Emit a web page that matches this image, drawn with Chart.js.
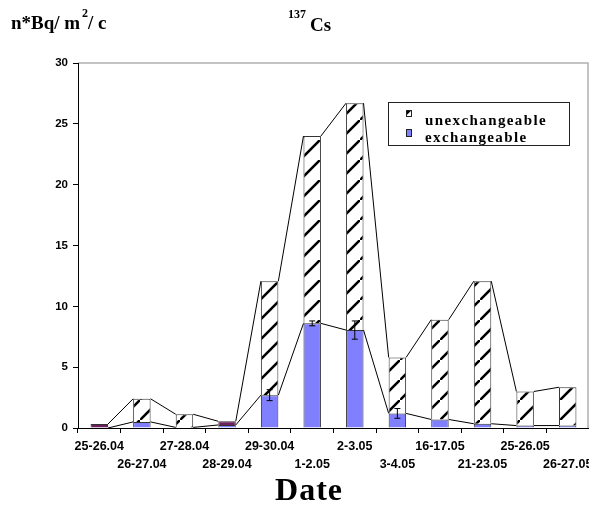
<!DOCTYPE html>
<html>
<head>
<meta charset="utf-8">
<script src="https://cdn.jsdelivr.net/npm/chart.js@4.4.0/dist/chart.umd.min.js"></script>
<style>
  body { margin: 0; background: #fff; }
  #wrap { width: 589px; height: 522px; }
</style>
</head>
<body>
<div id="wrap"><canvas id="myChart" width="589" height="522"></canvas></div>
<script>
// data
const dates = ['25-26.04', '26-27.04', '27-28.04', '28-29.04', '29-30.04', '1-2.05',
               '2-3.05', '3-4.05', '16-17.05', '21-23.05', '25-26.05', '26-27.05'];
const exchangeable = [0, 0.5, 0.05, 0.25, 2.7, 8.6, 8.05, 1.2, 0.7, 0.35, 0.2, 0.2];
const unexchangeable = [0.33, 1.9, 1.08, 0.3, 9.37, 15.4, 18.65, 4.6, 8.2, 11.72, 2.8, 3.15];
const exchError = [0, 0, 0, 0, 0.45, 0.2, 0.75, 0.4, 0, 0, 0, 0];
const yTicks = [0, 5, 10, 15, 20, 25, 30];

const canvas = document.getElementById('myChart');
const ctx = canvas.getContext('2d');

// hatch pattern for the unexchangeable part
function makeHatch() {
    const c = document.createElement('canvas');
    c.width = 20; c.height = 20;
    const g = c.getContext('2d');
    g.fillStyle = '#fff';
    g.fillRect(0, 0, 20, 20);
    g.strokeStyle = '#000';
    g.lineWidth = 2.6;
    g.beginPath();
    g.moveTo(-2, 22); g.lineTo(22, -2);
    g.stroke();
    return ctx.createPattern(c, 'repeat');
}
const hatch = makeHatch();
const purpleBars = [0, 3];
const unexColors = dates.map((d, i) => purpleBars.includes(i) ? '#6e1f5e' : hatch);

Chart.defaults.font.family = 'Liberation Sans, Arial, sans-serif';
Chart.defaults.font.weight = 'bold';
Chart.defaults.font.size = 11;
Chart.defaults.color = '#000';

// labels staggered on two rows
const xLabels = dates.map((d, i) => i % 2 === 0 ? [d, ''] : ['', d]);

const extras = {
    id: 'extras',
    beforeDraw(chart) {
        const a = chart.chartArea;
        const c = chart.ctx;
        c.save();
        c.strokeStyle = '#b0b0b0';
        c.lineWidth = 1.5;
        c.beginPath();
        c.moveTo(a.left, a.top);
        c.lineTo(a.right - 1, a.top);
        c.lineTo(a.right - 1, a.bottom);
        c.stroke();
        c.restore();
    },
    afterDatasetsDraw(chart) {
        const c = chart.ctx;
        const y = chart.scales.y;
        const low = chart.getDatasetMeta(0).data;
        const top = chart.getDatasetMeta(1).data;
        c.save();
        c.strokeStyle = '#000';
        c.lineWidth = 1;
        // series lines between bar tops
        [low, top].forEach(bars => {
            for (let i = 0; i < bars.length - 1; i++) {
                const b = bars[i], n = bars[i + 1];
                c.beginPath();
                c.moveTo(b.x + b.width / 2, b.y);
                c.lineTo(n.x - n.width / 2, n.y);
                c.stroke();
            }
        });
        // error bars
        low.forEach((b, i) => {
            if (!exchError[i]) return;
            const y1 = y.getPixelForValue(exchangeable[i] + exchError[i]);
            const y2 = y.getPixelForValue(exchangeable[i] - exchError[i]);
            c.beginPath();
            c.moveTo(b.x, y1); c.lineTo(b.x, y2);
            c.moveTo(b.x - 3, y1); c.lineTo(b.x + 3, y1);
            c.moveTo(b.x - 3, y2); c.lineTo(b.x + 3, y2);
            c.stroke();
        });
        c.restore();
    },
    afterDraw(chart) {
        const c = chart.ctx;
        c.save();
        c.fillStyle = '#000';
        // titles
        c.font = 'bold 19px "Liberation Serif", serif';
        c.textBaseline = 'alphabetic';
        c.fillText('n*Bq/ m', 11, 29);
        c.fillText('/ c', 88, 29);
        c.fillText('Cs', 310, 31);
        c.font = 'bold 12px "Liberation Serif", serif';
        c.fillText('2', 82, 17);
        c.fillText('137', 288, 18);
        c.font = 'bold 32px "Liberation Serif", serif';
        c.textAlign = 'center';
        c.letterSpacing = '1px';
        c.fillText('Date', 309, 500);
        // legend
        c.textAlign = 'left';
        c.strokeStyle = '#222';
        c.lineWidth = 1;
        c.strokeRect(388.5, 102.5, 181, 43);
        c.fillStyle = hatch;
        c.fillRect(407, 110, 5, 6);
        c.strokeRect(406.5, 110.5, 5, 6);
        c.fillStyle = '#8080ff';
        c.fillRect(407, 129, 5, 7);
        c.strokeRect(406.5, 129.5, 5, 7);
        c.fillStyle = '#000';
        c.font = 'bold 15px "Liberation Serif", serif';
        c.letterSpacing = '1.4px';
        c.fillText('unexchangeable', 425, 125);
        c.fillText('exchangeable', 425, 142);
        c.restore();
    }
};

const data = {
    labels: xLabels,
    datasets: [
        {
            label: 'exchangeable',
            data: exchangeable,
            backgroundColor: '#8080ff',
            borderColor: '#333',
            borderWidth: 1,
            stack: 's'
        },
        {
            label: 'unexchangeable',
            data: unexchangeable,
            backgroundColor: unexColors,
            borderColor: '#333',
            borderWidth: 1,
            stack: 's'
        }
    ]
};

const config = {
    type: 'bar',
    data: data,
    options: {
        responsive: false,
        animation: false,
        layout: { padding: { top: 63, left: 0, right: 0, bottom: 0 } },
        datasets: { bar: { categoryPercentage: 1, barPercentage: 0.41 } },
        plugins: { legend: { display: false }, tooltip: { enabled: false } },
        scales: {
            x: {
                stacked: true,
                border: { color: '#000', width: 1 },
                grid: { drawOnChartArea: false, color: '#000', tickLength: 5 },
                ticks: {
                    autoSkip: false, maxRotation: 0, minRotation: 0, padding: 5,
                    font: { size: 12.5, weight: 'bold', lineHeight: 1.4 }
                },
                afterFit(s) { s.height = 94; s.paddingLeft = 0; s.paddingRight = 0; }
            },
            y: {
                stacked: true,
                min: 0, max: 30,
                border: { color: '#000', width: 1 },
                grid: { drawOnChartArea: false, color: '#000', tickLength: 5 },
                afterBuildTicks(s) { s.ticks = yTicks.map(v => ({ value: v })); },
                ticks: { padding: 5, font: { size: 11.5, weight: 'bold' } },
                afterFit(s) { s.width = 78; }
            }
        }
    },
    plugins: [extras]
};

const myChart = new Chart(ctx, config);
</script>
</body>
</html>
